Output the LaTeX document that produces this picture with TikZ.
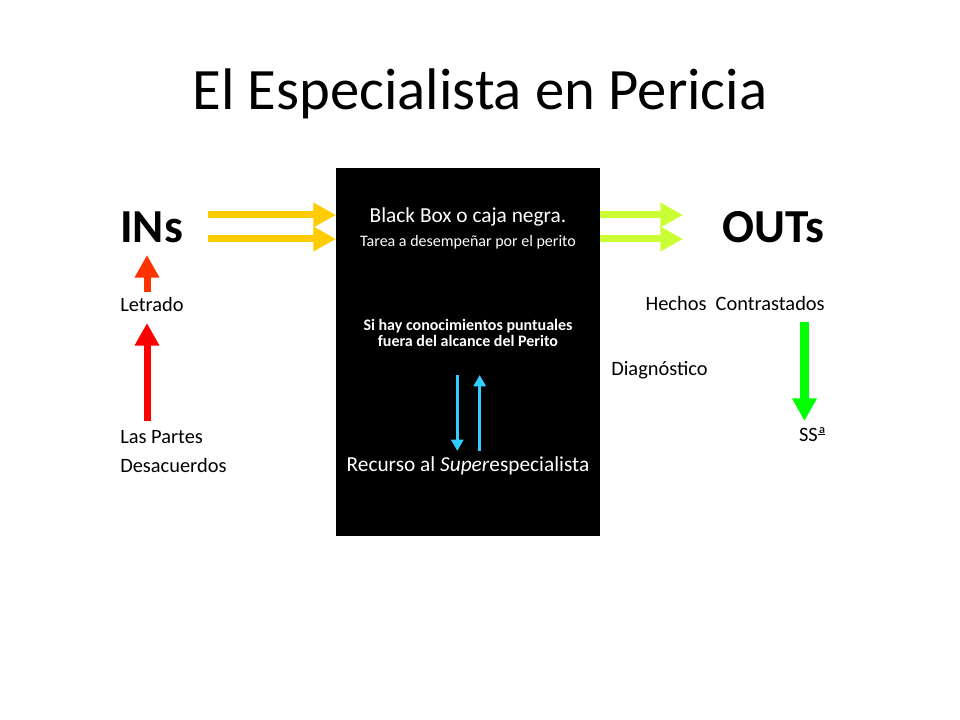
\documentclass[tikz,border=0pt]{standalone}
\usepackage{fontspec}
\setmainfont{Carlito}
\usetikzlibrary{arrows.meta}
\definecolor{gold}{HTML}{FFCC00}
\definecolor{lime}{HTML}{CCFF33}
\definecolor{orred}{HTML}{FF3300}
\definecolor{pure}{HTML}{FF0000}
\definecolor{bgreen}{HTML}{00FF00}
\definecolor{sky}{HTML}{33CCFF}
\tikzset{
  bigarrow/.style={line width=5.25pt,-{Triangle[length=17pt,width=17.5pt]}},
  thinarrow/.style={color=sky,line width=2.4pt,-{Triangle[length=8.5pt,width=9pt]}},
  lbl/.style={inner sep=0pt,anchor=base west,font=\fontsize{15.3}{18}\selectfont},
  lblr/.style={inner sep=0pt,anchor=base east,font=\fontsize{15.3}{18}\selectfont},
  boxtxt/.style={inner sep=0pt,anchor=base,text=white},
  big/.style={inner sep=0pt,font=\fontsize{35.5}{40}\selectfont\bfseries}
}
\begin{document}
\begin{tikzpicture}[x=0.75pt,y=-0.75pt]
\useasboundingbox (0,0) rectangle (960,720);
\node[inner sep=0pt,anchor=base,font=\fontsize{44}{52}\selectfont] (title) at (480,110) {El Especialista en Pericia};
\fill[black] (336,168) rectangle (600,536);
\coordinate (box) at (468,352);
% IN / OUT labels
\node[big,anchor=base west] (ins) at (120,243) {INs};
\node[big,anchor=base east] (outs) at (825,243) {OUTs};
% box texts
\node[boxtxt,font=\fontsize{16}{18}\selectfont] (bb) at (468,222.7) {Black Box o caja negra.};
\node[boxtxt,font=\fontsize{12}{14}\selectfont] (tarea) at (468,246.7) {Tarea a desempeñar por el perito};
\node[boxtxt,font=\fontsize{12}{14}\selectfont\bfseries] (si1) at (468,330) {Si hay conocimientos puntuales};
\node[boxtxt,font=\fontsize{12}{14}\selectfont\bfseries] (si2) at (468,346.7) {fuera del alcance del Perito};
\node[boxtxt,font=\fontsize{16}{18}\selectfont] (rec) at (468,471.7) {Recurso al \textit{Super}especialista};
% left labels
\node[lbl] (letrado) at (120,311.7) {Letrado};
\node[lbl] (partes) at (120,443) {Las Partes};
\node[lbl] (desac) at (120,472.7) {Desacuerdos};
% right labels
\node[lblr] (hechos) at (825,310.7) {Hechos\ \ Contrastados};
\node[lbl] (diag) at (611,375) {Diagnóstico};
\node[lblr] (ssa) at (825,441) {SS\rlap{ª}\raisebox{0.3em}{\rule{0.34em}{0.05em}}};
% arrow coordinates
\coordinate (y1s) at (208,215); \coordinate (y1e) at (336,215);
\coordinate (y2s) at (208,239); \coordinate (y2e) at (336,239);
\coordinate (g1s) at (600,215); \coordinate (g1e) at (683,215);
\coordinate (g2s) at (600,239); \coordinate (g2e) at (683,239);
\coordinate (os) at (147,292); \coordinate (oe) at (147,255);
\coordinate (rs) at (147,421); \coordinate (re) at (147,323);
\coordinate (gs) at (804.5,322); \coordinate (ge) at (804.5,421);
\coordinate (b1s) at (457.3,375); \coordinate (b1e) at (457.3,451);
\coordinate (b2s) at (479.7,451); \coordinate (b2e) at (479.7,375);
\draw[bigarrow,gold] (y1s) -- (y1e);
\draw[bigarrow,gold] (y2s) -- (y2e);
\draw[bigarrow,lime] (g1s) -- (g1e);
\draw[bigarrow,lime] (g2s) -- (g2e);
\draw[bigarrow,orred] (os) -- (oe);
\draw[bigarrow,pure] (rs) -- (re);
\draw[bigarrow,bgreen,line width=6.8pt] (gs) -- (ge);
\draw[thinarrow] (b1s) -- (b1e);
\draw[thinarrow] (b2s) -- (b2e);
\end{tikzpicture}
\end{document}
